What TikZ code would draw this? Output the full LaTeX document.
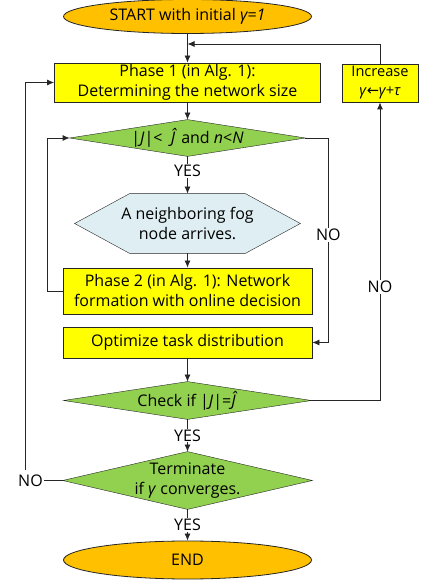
\documentclass[tikz,border=0pt]{standalone}
\usepackage{fontspec}
\setmainfont{Open Sans}
\newfontfamily\dv{DejaVu Sans}
\usetikzlibrary{shapes.geometric,arrows.meta,backgrounds,calc}
\definecolor{orng}{HTML}{FFC000}
\definecolor{ylw}{HTML}{FFFF00}
\definecolor{grn}{HTML}{92D050}
\definecolor{lblue}{HTML}{DEEEF3}
\definecolor{ln}{HTML}{262626}
\begin{document}
\begin{tikzpicture}[x=1pt,y=1pt,
  font=\fontsize{16}{20}\selectfont, line width=0.8pt,
  >={Latex[length=7pt,width=6pt]},
  termnode/.style={ellipse, draw=ln, fill=orng, inner sep=0pt, minimum width=248pt, minimum height=34pt},
  proc/.style={rectangle, draw=ln, fill=ylw, inner sep=0pt, align=center},
  area/.style={inner sep=0pt, align=center},
  lbl/.style={fill=white, inner sep=1pt},
  conn/.style={->, draw=ln},
  shp/.style={draw=ln}]
\useasboundingbox (0,0) rectangle (424,583);
\node[termnode] (start) at (187.5,566.5) {START with initial \textit{γ=1}};
\node[proc, minimum width=266pt, minimum height=39pt] (p1) at (187.5,500.5) {Phase 1 (in Alg. 1):\\Determining the network size};
\node[proc, minimum width=76pt, minimum height=38pt, font=\fontsize{14.6}{19}\selectfont] (inc) at (380,500) {Increase\\\textit{γ}{\dv ←}\textit{γ+τ}};
\node[area, minimum width=235pt, minimum height=36pt] (d1) at (187.5,445) {|\textit{J}|<\ \ \textit{Ĵ} and \textit{n}<\textit{N}};
\node[area, minimum width=225pt, minimum height=59pt] (hex) at (187.5,359.5) {A neighboring fog\\node arrives.};
\node[proc, minimum width=249pt, minimum height=46pt] (p2) at (187.5,292) {Phase 2 (in Alg. 1): Network\\formation with online decision};
\node[proc, minimum width=249pt, minimum height=31pt] (opt) at (187.5,240.5) {Optimize task distribution};
\node[area, minimum width=247pt, minimum height=37pt] (chk) at (187.5,182.5) {Check if |\textit{J}|=\textit{Ĵ}};
\node[area, minimum width=249pt, minimum height=57pt] (trm) at (187.5,102.5) {Terminate\\if \textit{γ} converges.};
\node[termnode, minimum height=38pt] (end) at (187.5,23) {END};
\node[inner sep=0pt] (no3) at (30.5,102.5) {NO};
\begin{scope}[on background layer]
\filldraw[shp, fill=grn] (d1.west)--(d1.north)--(d1.east)--(d1.south)--cycle;
\filldraw[shp, fill=grn] (chk.west)--(chk.north)--(chk.east)--(chk.south)--cycle;
\filldraw[shp, fill=grn] (trm.west)--(trm.north)--(trm.east)--(trm.south)--cycle;
\filldraw[shp, fill=lblue] (hex.west) -- ([xshift=55pt]hex.north west) -- ([xshift=-55pt]hex.north east) -- (hex.east) -- ([xshift=-55pt]hex.south east) -- ([xshift=55pt]hex.south west) -- cycle;
\end{scope}
\coordinate (j1) at (187.5,539);
\draw[conn] (start.south) -- (p1.north);
\draw[conn] (inc.north) |- (j1);
\draw[conn] (p1.south) -- (d1.north);
\draw[conn] (d1.south) -- node[lbl,pos=0.4]{YES} (hex.north);
\draw[conn] (hex.south) -- (p2.north);
\draw[conn] (p2.west) -- ++(-15pt,0) |- (d1.west);
\draw[conn] (d1.east) -- ++(23pt,0) |- node[lbl,pos=0.237]{NO} (opt.east);
\draw[conn] (opt.south) -- (chk.north);
\draw[conn] (chk.east) -| node[lbl,pos=0.69]{NO} (inc.south);
\draw[conn] (chk.south) -- node[lbl]{YES} (trm.north);
\draw[draw=ln] (trm.west) -- ([xshift=1pt]no3.east);
\draw[conn] ([xshift=-5.5pt,yshift=4pt]no3.north) |- (p1.west);
\draw[conn] (trm.south) -- node[lbl]{YES} (end.north);
\end{tikzpicture}
\end{document}
